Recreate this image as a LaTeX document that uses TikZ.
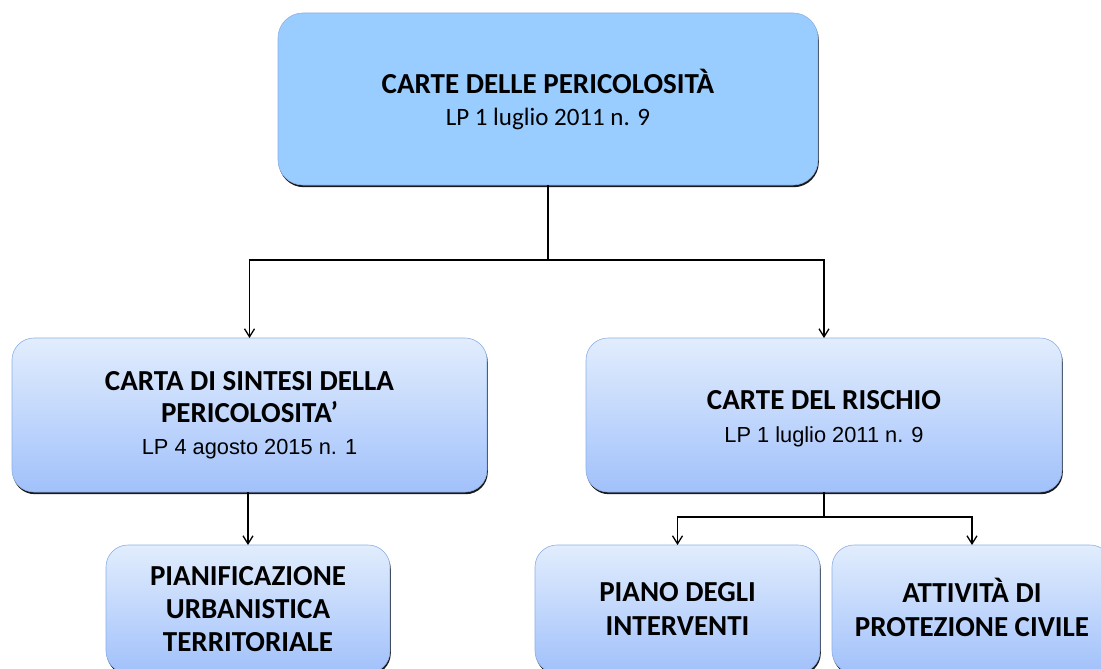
\documentclass[tikz,border=0pt]{standalone}
\usepackage{fontspec}
\setmainfont{Carlito}
\newfontfamily\arialf{Liberation Sans}
\usetikzlibrary{arrows.meta,shadows}
\definecolor{topfill}{HTML}{99CCFF}
\definecolor{gradtop}{HTML}{E2EDFD}
\definecolor{gradbot}{HTML}{A1C1FB}
\definecolor{edgecol}{HTML}{8DB0E6}
\begin{document}
\begin{tikzpicture}[x=1pt,y=-1pt,
  boxbase/.style={draw=edgecol, line width=0.6pt, inner sep=0pt, outer sep=0pt,
    anchor=north west, align=center,
    drop shadow={shadow xshift=0.8pt, shadow yshift=-2.2pt, fill=black, opacity=0.9}},
  topbox/.style={boxbase, rounded corners=25pt, fill=topfill},
  gradbox/.style={boxbase, rounded corners=22pt, top color=gradtop, bottom color=gradbot},
  conn/.style={line width=1.3pt, -{Straight Barb[length=8pt,width=10pt,line width=1.3pt]}},
  plain/.style={line width=1.3pt}
]
\useasboundingbox (0,0) rectangle (1101,669);
\fill[white] (0,0) rectangle (1101,669);

\node[topbox, minimum width=540pt, minimum height=172pt,
      font=\fontsize{29}{32}\selectfont\bfseries] (top) at (278,13)
  {CARTE DELLE PERICOLOSITÀ\\
   {\fontsize{25}{32}\selectfont\mdseries LP 1 luglio 2011 n. 9}};

\node[gradbox, minimum width=475pt, minimum height=154pt,
      font=\fontsize{29}{32}\selectfont\bfseries] (cl) at (12,338)
  {CARTA DI SINTESI DELLA\\
   PERICOLOSITA’\\
   {\fontsize{21.8}{32}\selectfont\arialf\mdseries LP 4 agosto 2015 n. 1}};

\node[gradbox, minimum width=476pt, minimum height=154pt] (cr) at (586,338) {};
\node[align=center, inner sep=0pt, yshift=-4pt,
      font=\fontsize{29}{33}\selectfont\bfseries] (crtext) at (cr.center)
  {CARTE DEL RISCHIO\\
   {\fontsize{21.8}{33}\selectfont\arialf\mdseries LP 1 luglio 2011 n. 9}};

\node[gradbox, minimum width=284pt, minimum height=128pt,
      font=\fontsize{29}{33}\selectfont\bfseries] (bl) at (106,545)
  {PIANIFICAZIONE\\ URBANISTICA\\ TERRITORIALE};

\node[gradbox, minimum width=285pt, minimum height=128pt,
      font=\fontsize{29}{34}\selectfont\bfseries] (bm) at (535,545)
  {PIANO DEGLI\\ INTERVENTI};

\node[gradbox, minimum width=280pt, minimum height=128pt] (br) at (832,545) {};
\node[align=center, inner sep=0pt, yshift=1.5pt,
      font=\fontsize{29}{34}\selectfont\bfseries] (brtext) at (br.center)
  {ATTIVITÀ DI\\ PROTEZIONE CIVILE};

\draw[plain] (top.south) -- ++(0,75) coordinate (j1);
\draw[conn] (j1) -| (cl.north);
\draw[conn] (j1) -| (cr.north);
\draw[conn] (cl.south -| bl.north) -- (bl.north);
\draw[plain] (cr.south) -- ++(0,25) coordinate (j2);
\draw[conn] (j2) -| (bm.north);
\draw[conn] (j2) -| (br.north);
\end{tikzpicture}
\end{document}
